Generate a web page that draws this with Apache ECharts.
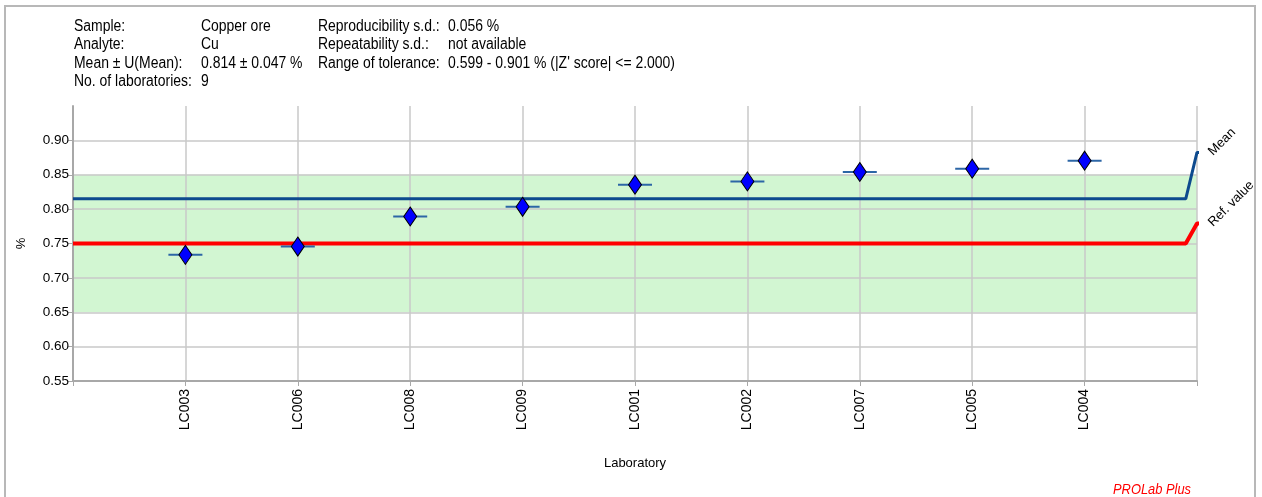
<!DOCTYPE html>
<html>
<head>
<meta charset="utf-8">
<script src="https://cdn.jsdelivr.net/npm/echarts@6/dist/echarts.min.js"></script>
<style>html,body{margin:0;padding:0;background:#fff;}#c{width:1262px;height:497px;}</style>
</head>
<body>
<div id="c"></div>
<script>
// ---- data ----
const labs = ['LC003','LC006','LC008','LC009','LC001','LC002','LC007','LC005','LC004'];
const values = [0.7335, 0.7456, 0.7893, 0.8034, 0.8355, 0.8403, 0.854, 0.8588, 0.8704];
const meanValue = 0.815;
const refValue = 0.75;
const bandLimits = [0.65, 0.85];
const yTicks = [0.55, 0.60, 0.65, 0.70, 0.75, 0.80, 0.85, 0.90];
const infoCol1 = ['Sample:', 'Analyte:', 'Mean \u00b1 U(Mean):', 'No. of laboratories:'];
const infoCol2 = ['Copper ore', 'Cu', '0.814 \u00b1 0.047 %', '9'];
const infoCol3 = ['Reproducibility s.d.:', 'Repeatability s.d.:', 'Range of tolerance:'];
const infoCol4 = ['0.056 %', 'not available', "0.599 - 0.901 % (|Z' score| <= 2.000)"];

// ---- helpers ----
const BASE = '"Liberation Sans", Arial, sans-serif';
function measure(text, font){
  const c = document.createElement('canvas').getContext('2d');
  c.font = font;
  return c.measureText(text).width;
}
const infoFont = '16px "Liberation Sans", Arial, sans-serif';
// horizontal compression so the long value text matches the reference width
const infoScale = 227 / measure(infoCol4[2], infoFont);

const n = labs.length;
const xData = values.map((v, i) => [i + 1, v]);

const chart = echarts.init(document.getElementById('c'), null, {renderer: 'canvas'});

const meanTop = 0.8825, refTop = 0.779;
const option = {
  animation: false,
  grid: {left: 73, right: 65, top: 106, bottom: 116},
  xAxis: {
    type: 'value', min: 0, max: n + 1, interval: 1,
    name: 'Laboratory', nameLocation: 'middle', nameGap: 76,
    nameTextStyle: {fontFamily: BASE, fontSize: 13, color: '#000'},
    axisLine: {show: true, lineStyle: {color: '#a8a8a8', width: 2}},
    axisTick: {show: true, length: 5, lineStyle: {color: '#a8a8a8', width: 1}},
    axisLabel: {
      rotate: 90, margin: 8, fontSize: 14, color: '#000', fontFamily: BASE,
      formatter: v => labs[Math.round(v) - 1] || ''
    },
    splitLine: {show: true, lineStyle: {color: '#c8c8c8', width: 1.5}}
  },
  yAxis: {
    type: 'value', min: 0.55, max: 0.95, interval: 0.05,
    name: '%', nameLocation: 'middle', nameRotate: 90, nameGap: 45,
    nameTextStyle: {fontFamily: BASE, fontSize: 13, color: '#000'},
    axisLine: {show: true, lineStyle: {color: '#a8a8a8', width: 2}},
    axisTick: {show: true, length: 5, customValues: yTicks, lineStyle: {color: '#a8a8a8', width: 1}},
    axisLabel: {
      margin: 4, fontSize: 13.5, color: '#000', fontFamily: BASE,
      customValues: yTicks,
      formatter: v => v.toFixed(2)
    },
    splitLine: {show: true, lineStyle: {color: '#c8c8c8', width: 1.5}}
  },
  series: [
    {
      type: 'custom', z: -1, silent: true,
      data: [[bandLimits[0], bandLimits[1]]],
      renderItem: (params, api) => {
        const p1 = api.coord([0, api.value(1)]);
        const p2 = api.coord([n + 1, api.value(0)]);
        return {type: 'rect', shape: {x: p1[0], y: p1[1], width: p2[0] - p1[0], height: p2[1] - p1[1]},
                style: {fill: '#d2f6d2'}};
      }
    },
    {
      type: 'line', name: 'Mean', clip: false, symbol: 'none', silent: true,
      lineStyle: {color: '#0d4a8e', width: 3},
      data: [[0, meanValue], [n + 0.9, meanValue], [n + 1, meanTop], [n + 1.04, meanTop]]
    },
    {
      type: 'line', name: 'Ref. value', clip: false, symbol: 'none', silent: true,
      lineStyle: {color: '#ff0000', width: 4},
      data: [[0, refValue], [n + 0.9, refValue], [n + 1, refTop], [n + 1.04, refTop]]
    },
    {
      type: 'scatter', symbol: 'rect', symbolSize: [34, 2], silent: true, z: 3,
      itemStyle: {color: '#2c66a6', opacity: 1},
      data: xData
    },
    {
      type: 'scatter', symbol: 'diamond', symbolSize: [13, 19], silent: true, z: 4,
      itemStyle: {color: '#0000ff', borderColor: '#000', borderWidth: 1, opacity: 1},
      data: xData
    }
  ]
};
chart.setOption(option);

// ---- graphics: frame, info block, leader labels, footer ----
const g = [];
g.push({type: 'rect', shape: {x: 5, y: 6, width: 1250, height: 510}, silent: true,
        style: {fill: null, stroke: '#b8b8b8', lineWidth: 2}, z: -10});
const rows = [26.7, 45, 63.5, 82];
function info(texts, x){
  texts.forEach((t, i) => g.push({type: 'text', x: x, y: rows[i], scaleX: infoScale, scaleY: 1,
    originX: 0, originY: 0, silent: true,
    style: {text: t, font: infoFont, fill: '#000', align: 'left', verticalAlign: 'middle'}}));
}
info(infoCol1, 74);
info(infoCol2, 201);
info(infoCol3, 318);
info(infoCol4, 448);

const pm = chart.convertToPixel({gridIndex: 0}, [n + 1.04, meanTop]);
const pr = chart.convertToPixel({gridIndex: 0}, [n + 1.04, refTop]);
function leader(t, p){
  g.push({type: 'text', x: p[0] + 9, y: p[1] + 1, rotation: Math.PI / 4, silent: true,
    originX: 0, originY: 0,
    style: {text: t, font: '13px "Liberation Sans", Arial, sans-serif', fill: '#000',
            align: 'left', verticalAlign: 'middle'}});
}
leader('Mean', pm);
leader('Ref. value', pr);

const prolabFont = 'italic 14px "Liberation Sans", Arial, sans-serif';
const prolabScale = 78 / measure('PROLab Plus', prolabFont);
g.push({type: 'text', x: 1113, y: 490, scaleX: prolabScale, silent: true, originX: 0, originY: 0,
  style: {text: 'PROLab Plus', font: prolabFont, fill: '#ff0000', align: 'left', verticalAlign: 'middle'}});
chart.setOption({graphic: {elements: g}});
</script>
</body>
</html>
